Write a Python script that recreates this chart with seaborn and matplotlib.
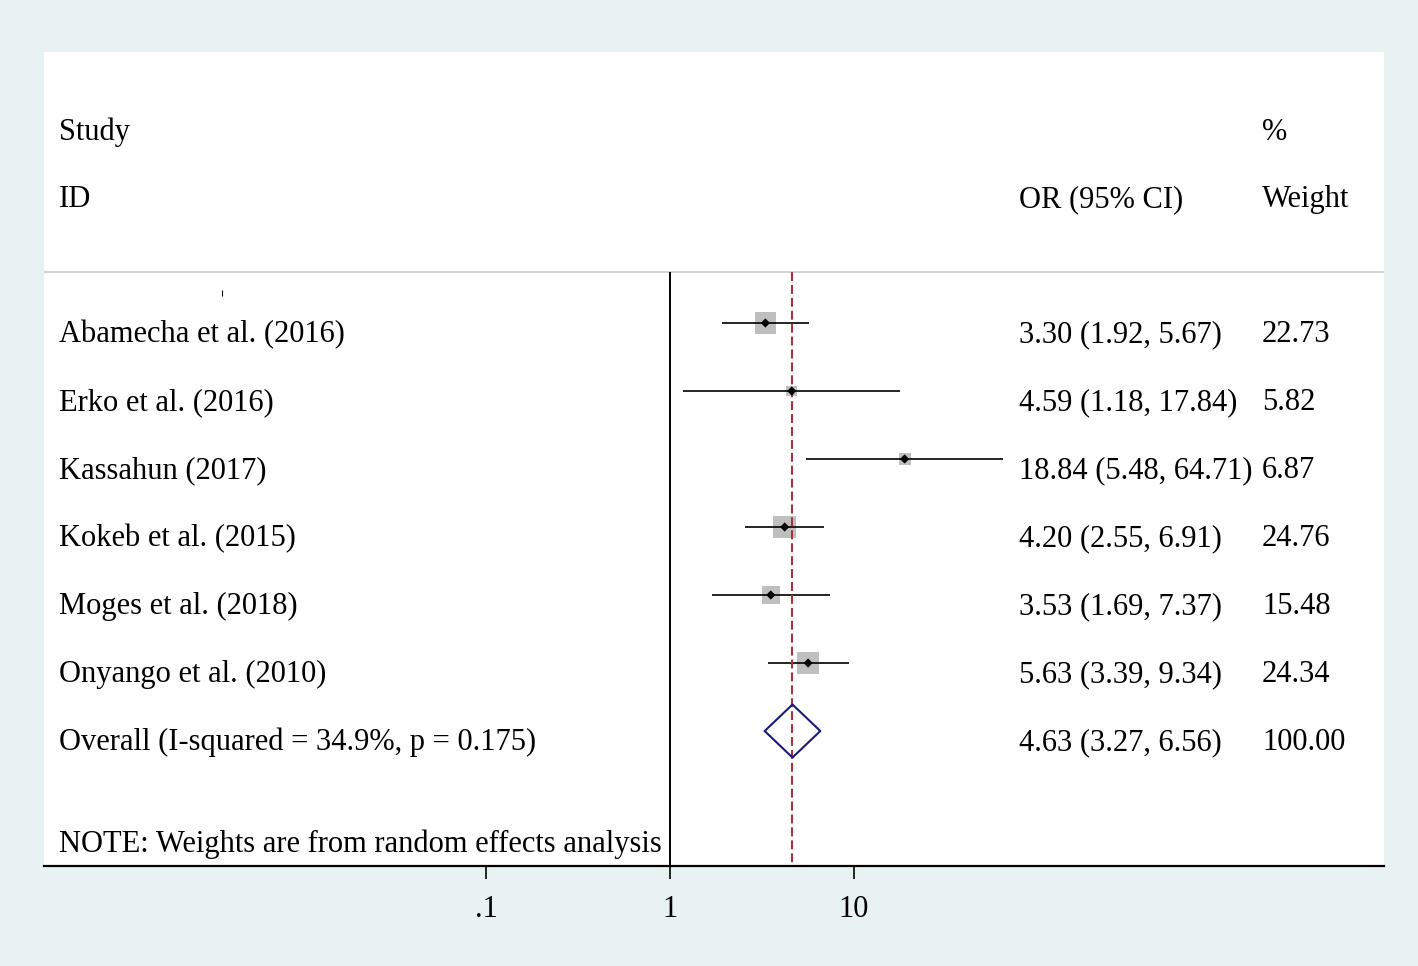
import numpy as np
import matplotlib
matplotlib.use("Agg")
import matplotlib.pyplot as plt
import matplotlib.transforms as mtransforms
import seaborn as sns
import pandas as pd

# study-level data
studies = ["Abamecha et al. (2016)", "Erko et al. (2016)", "Kassahun (2017)",
           "Kokeb et al. (2015)", "Moges et al. (2018)", "Onyango et al. (2010)"]
odds = [3.30, 4.59, 18.84, 4.20, 3.53, 5.63]
lower = [1.92, 1.18, 5.48, 2.55, 1.69, 3.39]
upper = [5.67, 17.84, 64.71, 6.91, 7.37, 9.34]
weights = [22.73, 5.82, 6.87, 24.76, 15.48, 24.34]

overall_label = "Overall (I-squared = 34.9%, p = 0.175)"
overall_or, overall_lo, overall_hi, overall_w = 4.63, 3.27, 6.56, 100.00
note = "NOTE: Weights are from random effects analysis"
tick_vals = [0.1, 1, 10]
tick_labels = [".1", "1", "10"]

df = pd.DataFrame({"study": studies, "or": odds, "lo": lower, "hi": upper,
                   "w": weights, "row": np.arange(len(studies))})

sns.set_style("white")
plt.rcParams["font.family"] = ["Liberation Serif", "DejaVu Serif"]
plt.rcParams["text.color"] = "black"
FS = 22

fig = plt.figure(figsize=(14.18, 9.66), dpi=100)
fig.patch.set_facecolor("#E9F2F3")
ax = fig.add_axes([44 / 1418, 1 - 866 / 966, 1340 / 1418, 814 / 966])
ax.set_facecolor("white")

ax.set_xscale("log")
ax.set_xlim(10 ** ((44 - 670) / 184), 10 ** ((1384 - 670) / 184))
ax.set_ylim(7.985, -3.985)

# CI lines
ax.hlines(df["row"], df["lo"], df["hi"], color="black", lw=1.2, zorder=3)
# weight boxes, area proportional to weight
sns.scatterplot(data=df, x="or", y="row", size="w",
                sizes=(df["w"].min() * 10.5, df["w"].max() * 10.5),
                marker="s", color="#BFBFBF", edgecolor="none", legend=False, ax=ax, zorder=2)
# point estimates
sns.scatterplot(data=df, x="or", y="row", marker="D", color="black", s=22,
                edgecolor="none", legend=False, ax=ax, zorder=4)

# overall diamond
r_ov = len(studies)
dx = [overall_lo, overall_or, overall_hi, overall_or, overall_lo]
dy = [r_ov, r_ov - 0.39, r_ov, r_ov + 0.39, r_ov]
ax.plot(dx, dy, color="#1A1A7A", lw=1.5, zorder=4)

# reference lines
ymax = ax.get_ylim()[0]
ax.vlines(1, -0.75, ymax, color="black", lw=1.4, zorder=3)
ax.vlines(overall_or, -0.75, ymax, color="#A8333F", lw=1.5, linestyles=(0, (4.3, 1.9)), zorder=3)
ax.axhline(-0.75, color="#CCCCCC", lw=1.2)
ax.vlines(10 ** ((222 - 670) / 184), -0.48, -0.40, color="black", lw=0.8)

# text columns
tr = mtransforms.blended_transform_factory(ax.transAxes, ax.transData)
x_id, x_or, x_w = 15 / 1340, 975 / 1340, 1218 / 1340
off = 0.17
kw = dict(transform=tr, fontsize=FS, va="center", color="black")
ax.text(x_id, -2.80, "Study", **kw)
ax.text(x_id, -1.82, "ID", **kw)
ax.text(x_or, -1.82, "OR (95% CI)", **kw)
ax.text(x_w, -2.80, "%", **kw)
ax.text(x_w, -1.82, "Weight", **kw)

for s, o, lo, hi, w, r in zip(studies, odds, lower, upper, weights, df["row"]):
    ax.text(x_id, r + off, s, **kw)
    ax.text(x_or, r + off, f"{o:.2f} ({lo:.2f}, {hi:.2f})", **kw)
    ax.text(x_w, r + off, f"{w:.2f}", **kw)

ax.text(x_id, r_ov + off, overall_label, **kw)
ax.text(x_or, r_ov + off, f"{overall_or:.2f} ({overall_lo:.2f}, {overall_hi:.2f})", **kw)
ax.text(x_w, r_ov + off, f"{overall_w:.2f}", **kw)
ax.text(x_id, 7.66, note, **kw)

# axes styling
for side in ["top", "right", "left"]:
    ax.spines[side].set_visible(False)
ax.spines["bottom"].set_color("black")
ax.spines["bottom"].set_linewidth(1.6)
ax.set_xticks(tick_vals)
ax.set_xticklabels(tick_labels, fontsize=FS, color="black")
ax.xaxis.set_minor_locator(matplotlib.ticker.NullLocator())
ax.tick_params(axis="x", direction="out", length=9, width=1.2, color="black", pad=12, bottom=True)
ax.set_yticks([])
ax.set_xlabel("")
ax.set_ylabel("")

fig.savefig("out.png", dpi=100, facecolor=fig.get_facecolor())
